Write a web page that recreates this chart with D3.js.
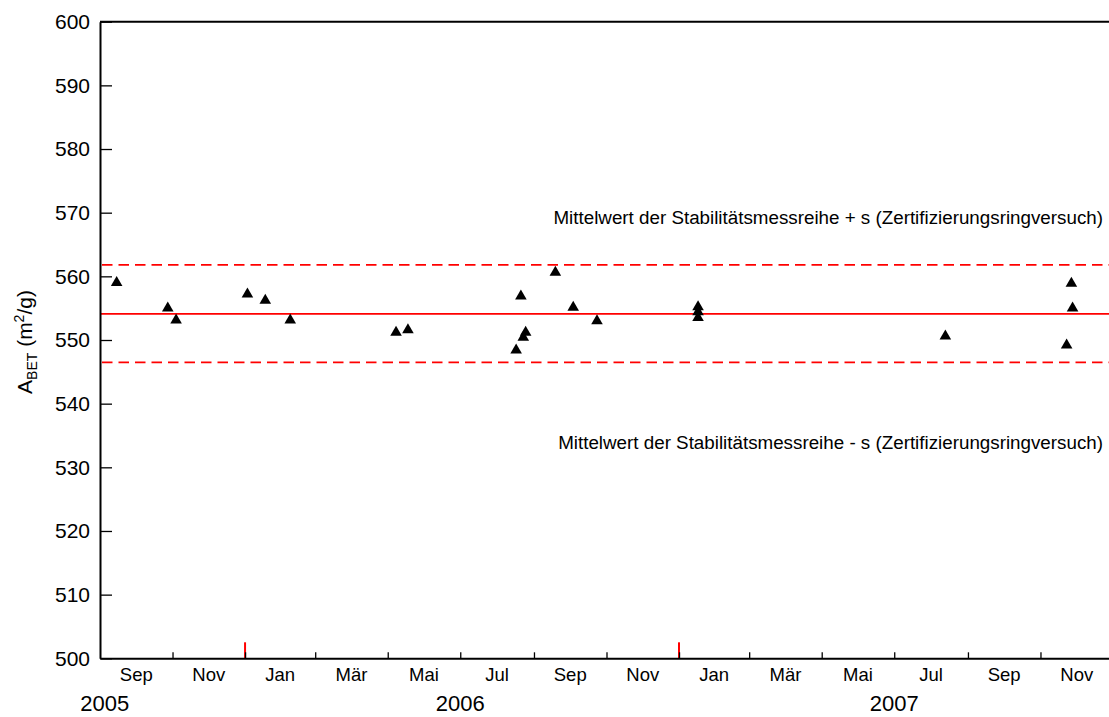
<!DOCTYPE html>
<html>
<head>
<meta charset="utf-8">
<script src="https://cdn.jsdelivr.net/npm/d3@7"></script>
<style>
  html, body { margin: 0; padding: 0; background: #fff; }
  svg { display: block; font-family: "Liberation Sans", Arial, Helvetica, sans-serif; }
</style>
</head>
<body>
<svg id="chart" width="1109" height="717"></svg>
<script>
// Measurement dates and specific surface area values (m²/g)
const sampleDates = [
  "2005-09-15", "2005-10-28", "2005-11-04",
  "2006-01-03", "2006-01-18", "2006-02-08",
  "2006-05-08", "2006-05-18",
  "2006-08-17", "2006-08-21", "2006-08-23", "2006-08-25",
  "2006-09-19", "2006-10-04", "2006-10-24",
  "2007-01-17", "2007-01-17", "2007-01-17",
  "2007-08-13",
  "2007-11-23", "2007-11-27", "2007-11-28"
];
const sampleValues = [
  559.0, 555.0, 553.1,
  557.2, 556.2, 553.1,
  551.2, 551.6,
  548.4, 556.9, 550.4, 551.2,
  560.6, 555.1, 553.0,
  555.2, 554.4, 553.5,
  550.6,
  549.2, 558.9, 555.0
];

// Mean of the stability series and ± s from the certification round robin
const meanValue = 554.1;
const upperValue = 561.8;
const lowerValue = 546.5;

const yTicks = [500, 510, 520, 530, 540, 550, 560, 570, 580, 590, 600];
const monthNames = ["Jan", "Feb", "Mär", "Apr", "Mai", "Jun", "Jul", "Aug", "Sep", "Okt", "Nov", "Dez"];
const yearLabels = ["2005", "2006", "2007"];
const yearLabelDates = ["2005-09-05", "2006-07-01", "2007-07-01"];
const upperText = "Mittelwert der Stabilitätsmessreihe + s (Zertifizierungsringversuch)";
const lowerText = "Mittelwert der Stabilitätsmessreihe - s (Zertifizierungsringversuch)";

(function () {
  const parse = d3.utcParse("%Y-%m-%d");
  const points = sampleDates.map((d, i) => ({ date: parse(d), value: sampleValues[i] }));

  const svg = d3.select("#chart");
  const plotLeft = 100, plotRight = 1113, plotTop = 21.7, plotBottom = 658.3;

  const x = d3.scaleUtc()
    .domain([parse("2005-09-01"), parse("2008-01-01")])
    .range([plotLeft, plotRight]);
  const y = d3.scaleLinear().domain([500, 600]).range([plotBottom, plotTop]);

  const font = '"Liberation Sans", Arial, Helvetica, sans-serif';

  // frame: top edge
  svg.append("line")
    .attr("x1", plotLeft).attr("x2", plotRight)
    .attr("y1", plotTop).attr("y2", plotTop)
    .attr("stroke", "#000").attr("stroke-width", 2);

  // reference lines
  const refG = svg.append("g");
  refG.append("line")
    .attr("x1", plotLeft).attr("x2", plotRight)
    .attr("y1", y(meanValue)).attr("y2", y(meanValue))
    .attr("stroke", "#ff0000").attr("stroke-width", 1.8);
  [upperValue, lowerValue].forEach(v => {
    refG.append("line")
      .attr("x1", plotLeft + 2).attr("x2", plotRight)
      .attr("y1", y(v)).attr("y2", y(v))
      .attr("stroke", "#ff0000").attr("stroke-width", 1.8)
      .attr("stroke-dasharray", "10.5,6");
  });

  // annotation texts
  svg.append("text")
    .attr("x", 1103).attr("y", 224)
    .attr("text-anchor", "end")
    .attr("font-size", 18.8).attr("font-family", font)
    .text(upperText);
  svg.append("text")
    .attr("x", 1103).attr("y", 449)
    .attr("text-anchor", "end")
    .attr("font-size", 18.8).attr("font-family", font)
    .text(lowerText);

  // y axis
  const yAxis = d3.axisLeft(y)
    .tickValues(yTicks)
    .tickSizeInner(-12)
    .tickSizeOuter(0)
    .tickPadding(10)
    .tickFormat(d3.format("d"));
  const yg = svg.append("g").attr("transform", `translate(${plotLeft},0)`).call(yAxis);
  yg.select(".domain").attr("stroke-width", 2);
  yg.selectAll(".tick line").attr("stroke-width", 1.3);
  yg.selectAll(".tick text")
    .attr("font-size", 21).attr("font-family", font).attr("fill", "#000");

  // x axis: year boundary marks in red
  const yearStarts = d3.utcYear.range(x.domain()[0], x.domain()[1]).filter(d => x(d) > plotLeft);
  svg.append("g").selectAll("line")
    .data(yearStarts)
    .join("line")
    .attr("x1", d => x(d)).attr("x2", d => x(d))
    .attr("y1", plotBottom).attr("y2", plotBottom - 16)
    .attr("stroke", "#ff0000").attr("stroke-width", 2);

  // x axis: ticks every two months
  const monthTicks = d3.utcMonth.every(2).range(x.domain()[0], x.domain()[1]).filter(d => x(d) > plotLeft);
  const xAxis = d3.axisBottom(x)
    .tickValues(monthTicks)
    .tickSizeInner(-6)
    .tickSizeOuter(0)
    .tickFormat("");
  const xg = svg.append("g").attr("transform", `translate(0,${plotBottom})`).call(xAxis);
  xg.select(".domain").attr("stroke-width", 2);
  xg.selectAll(".tick line").attr("stroke-width", 1.3);

  // month labels centred in each two-month interval
  const intervals = d3.utcMonth.every(2).range(x.domain()[0], x.domain()[1]);
  svg.append("g").selectAll("text")
    .data(intervals)
    .join("text")
    .attr("x", d => (x(d) + x(d3.utcMonth.offset(d, 2))) / 2)
    .attr("y", 681)
    .attr("text-anchor", "middle")
    .attr("font-size", 18.5).attr("font-family", font)
    .text(d => monthNames[d.getUTCMonth()]);

  // year labels
  svg.append("g").selectAll("text")
    .data(yearLabels)
    .join("text")
    .attr("x", (d, i) => x(parse(yearLabelDates[i])))
    .attr("y", 711)
    .attr("text-anchor", "middle")
    .attr("font-size", 22).attr("font-family", font)
    .text(d => d);

  // y axis title
  const title = svg.append("text")
    .attr("transform", "translate(32,342) rotate(-90)")
    .attr("text-anchor", "middle")
    .attr("font-size", 21).attr("font-family", font);
  title.append("tspan").text("A");
  title.append("tspan").attr("font-size", 14).attr("dy", 5).text("BET");
  title.append("tspan").attr("dy", -5).text(" (m");
  title.append("tspan").attr("font-size", 14).attr("dy", -8).text("2");
  title.append("tspan").attr("dy", 8).text("/g)");

  // data points
  svg.append("g").selectAll("path")
    .data(points)
    .join("path")
    .attr("transform", d => `translate(${x(d.date)},${y(d.value)})`)
    .attr("d", d3.symbol(d3.symbolTriangle, 58))
    .attr("fill", "#000");
})();
</script>
</body>
</html>
